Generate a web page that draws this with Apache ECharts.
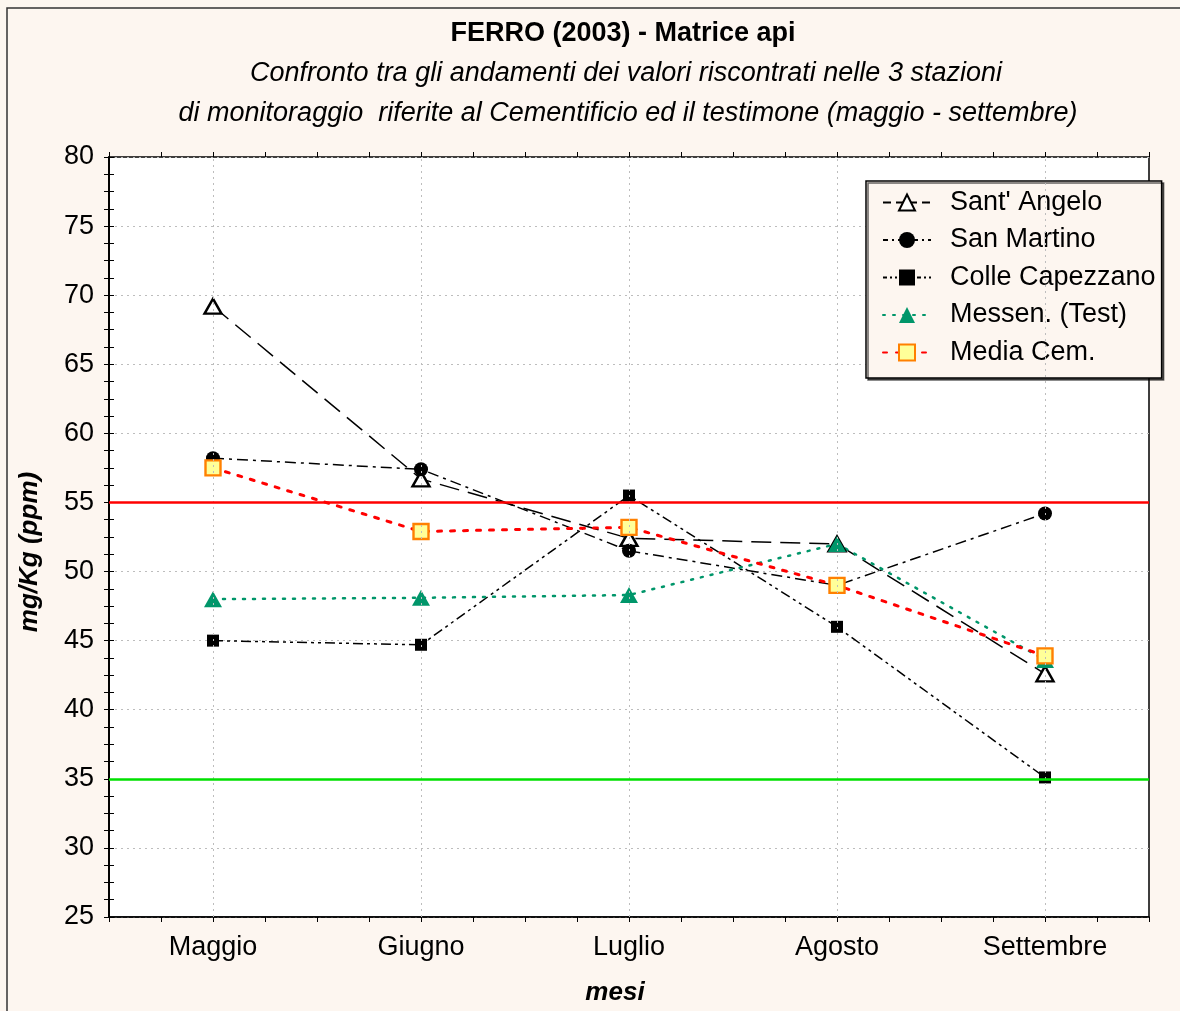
<!DOCTYPE html>
<html>
<head>
<meta charset="utf-8">
<script src="https://cdn.jsdelivr.net/npm/echarts@6/dist/echarts.min.js"></script>
<style>
html,body{margin:0;padding:0;background:#fdf6f0;}
#chart{width:1180px;height:1011px;}
</style>
</head>
<body>
<div id="chart"></div>
<script>
const months = ['Maggio', 'Giugno', 'Luglio', 'Agosto', 'Settembre'];
const santAngelo = [69.2, 56.7, 52.4, 52.0, 42.6];
const sanMartino = [58.2, 57.4, 51.5, 49.0, 54.2];
const colleCapezzano = [45.0, 44.7, 55.5, 46.0, 35.1];
const messen = [48.0, 48.1, 48.3, 52.0, 43.6];
const mediaCem = [57.5, 52.9, 53.2, 49.0, 43.9];
const upperLimit = 55;
const lowerLimit = 35;
const yTicks = { min: 25, max: 80, step: 5 };

const FONT = '"Liberation Sans", Arial, sans-serif';
const chart = echarts.init(document.getElementById('chart'), null, { renderer: 'canvas' });

const tickAxisCommon = {
  type: 'value', min: 0, max: 20, interval: 1,
  axisLine: { show: false },
  axisTick: { show: true, inside: false, length: 5, lineStyle: { color: '#000', width: 1 } },
  axisLabel: { show: false },
  splitLine: { show: false }
};

const yCommon = {
  type: 'value', min: yTicks.min, max: yTicks.max, interval: yTicks.step,
  axisLine: { show: true, lineStyle: { color: '#000', width: 1.5 } },
  axisTick: { show: true, length: 5, lineStyle: { color: '#000', width: 1 } },
  minorTick: { show: true, splitNumber: 4, length: 5, lineStyle: { color: '#000', width: 1 } },
};

function lineSeries(name, data, opts) {
  return Object.assign({
    name: name, type: 'line', data: data, xAxisIndex: 0, yAxisIndex: 0,
    animation: false
  }, opts);
}

const option = {
  backgroundColor: '#fdf6f0',
  animation: false,
  title: [
    { text: 'FERRO (2003) - Matrice api', left: 618, top: 15, textAlign: 'center',
      textStyle: { fontFamily: FONT, fontSize: 27, fontWeight: 'bold', color: '#000' } },
    { text: 'Confronto tra gli andamenti dei valori riscontrati nelle 3 stazioni', left: 621, top: 55, textAlign: 'center',
      textStyle: { fontFamily: FONT, fontSize: 27, fontStyle: 'italic', fontWeight: 'normal', color: '#000' } },
    { text: 'di monitoraggio  riferite al Cementificio ed il testimone (maggio - settembre)', left: 623, top: 95, textAlign: 'center',
      textStyle: { fontFamily: FONT, fontSize: 27, fontStyle: 'italic', fontWeight: 'normal', color: '#000' } }
  ],
  graphic: [
    { type: 'rect', shape: { x: 7, y: 8, width: 1300, height: 1200 }, silent: true, z: -10,
      style: { fill: null, stroke: '#333', lineWidth: 1.5 } }
  ],
  grid: { left: 109, right: 31, top: 157, bottom: 93, show: true, backgroundColor: '#ffffff', borderColor: '#000', borderWidth: 1.5 },
  legend: {
    orient: 'vertical', left: 866, top: 181,
    padding: [8, 6, 12, 16], itemGap: 10.5, itemWidth: 48, itemHeight: 20,
    backgroundColor: '#fdf6f0', borderColor: '#000', borderWidth: 1.5,
    shadowColor: 'rgba(0,0,0,0.6)', shadowOffsetX: 2, shadowOffsetY: 2, shadowBlur: 0,
    textStyle: { fontFamily: FONT, fontSize: 27, color: '#000', padding: [0, 0, 0, 14] },
    data: [
      { name: "Sant' Angelo", lineStyle: { type: [8, 5] } },
      { name: 'San Martino', lineStyle: { type: [5, 4, 2, 4] } },
      { name: 'Colle Capezzano', lineStyle: { type: [4, 3, 2, 3, 2, 3] } },
      { name: 'Messen. (Test)' },
      { name: 'Media Cem.' }
    ]
  },
  xAxis: [
    { type: 'category', data: months, boundaryGap: true, position: 'bottom',
      axisLine: { show: true, lineStyle: { color: '#000', width: 1.5 } },
      axisTick: { show: false },
      axisLabel: { fontFamily: FONT, fontSize: 27, color: '#000', margin: 17 },
      splitLine: { show: false },
      name: 'mesi', nameLocation: 'middle', nameGap: 63,
      nameTextStyle: { fontFamily: FONT, fontSize: 26, fontWeight: 'bold', fontStyle: 'italic', color: '#000', padding: [0, 28, 0, 0] } },
    Object.assign({ position: 'bottom' }, tickAxisCommon),
    Object.assign({ position: 'top' }, tickAxisCommon)
  ],
  yAxis: [
    Object.assign({}, yCommon, {
      position: 'left',
      axisLabel: { fontFamily: FONT, fontSize: 27, color: '#000', margin: 15 },
      splitLine: { show: true, lineStyle: { color: '#bdbdbd', type: [2, 4], width: 1 } },
      name: 'mg/Kg (ppm)', nameLocation: 'middle', nameGap: 66,
      nameTextStyle: { fontFamily: FONT, fontSize: 26, fontWeight: 'bold', fontStyle: 'italic', color: '#000', padding: [0, 30, 0, 0] }
    }),
    Object.assign({}, yCommon, {
      position: 'right', axisLabel: { show: false }, splitLine: { show: false }
    })
  ],
  series: [
    {
      type: 'line', name: '_grid', data: [], xAxisIndex: 0, yAxisIndex: 0, silent: true,
      markLine: {
        silent: true, symbol: 'none', label: { show: false }, animation: false,
        lineStyle: { color: '#bdbdbd', type: [2, 4], width: 1 },
        data: months.map(m => ({ xAxis: m }))
      },
      z: 1
    },
    {
      type: 'line', name: '_limits', data: [], xAxisIndex: 0, yAxisIndex: 0, silent: true,
      markLine: {
        silent: true, symbol: 'none', label: { show: false }, animation: false,
        data: [
          { yAxis: upperLimit, lineStyle: { color: '#ff0000', width: 2.5, type: 'solid' } },
          { yAxis: lowerLimit, lineStyle: { color: '#00e000', width: 2.5, type: 'solid' } }
        ]
      },
      z: 2
    },
    lineSeries("Sant' Angelo", santAngelo, {
      symbol: 'triangle', symbolSize: [17, 15],
      itemStyle: { color: '#ffffff', borderColor: '#000', borderWidth: 2.4 },
      lineStyle: { color: '#000', width: 1.5, type: [20, 9] }, z: 3
    }),
    lineSeries('San Martino', sanMartino, {
      symbol: 'circle', symbolSize: 14,
      itemStyle: { color: '#000', borderColor: '#000', borderWidth: 0 },
      lineStyle: { color: '#000', width: 1.5, type: [11, 5, 3, 5] }, z: 3
    }),
    lineSeries('Colle Capezzano', colleCapezzano, {
      symbol: 'rect', symbolSize: 12,
      itemStyle: { color: '#000', borderColor: '#000', borderWidth: 0 },
      lineStyle: { color: '#000', width: 1.5, type: [10, 4, 3, 4, 3, 4] }, z: 3
    }),
    lineSeries('Messen. (Test)', messen, {
      symbol: 'triangle', symbolSize: [18, 16],
      itemStyle: { color: '#00966a', borderColor: '#00966a', borderWidth: 0 },
      lineStyle: { color: '#00966a', width: 2.5, type: [2, 8], cap: 'round' }, z: 3
    }),
    lineSeries('Media Cem.', mediaCem, {
      symbol: 'rect', symbolSize: 15,
      itemStyle: { color: '#ffff99', borderColor: '#ff8000', borderWidth: 2.4 },
      lineStyle: { color: '#ff0000', width: 3, type: [4, 9], cap: 'round' }, z: 3
    })
  ]
};
chart.setOption(option);
</script>
</body>
</html>
